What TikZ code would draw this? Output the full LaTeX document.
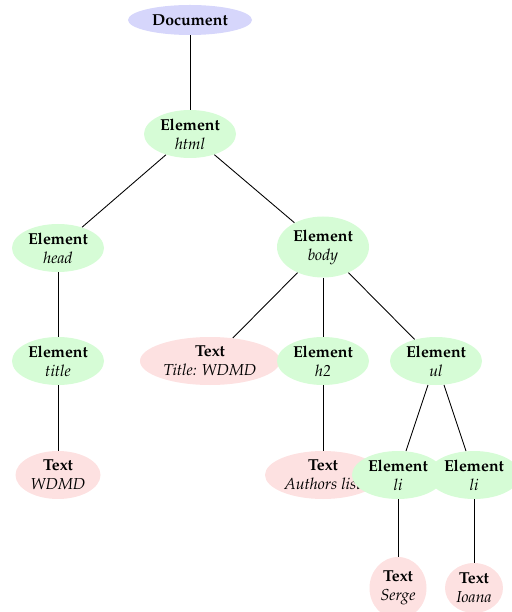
\documentclass[tikz,border=0pt]{standalone}
\usepackage[T1]{fontenc}
\usepackage{mathpazo}
\usetikzlibrary{shapes.geometric}
\definecolor{elemgreen}{HTML}{D6FCD6}
\definecolor{textpink}{HTML}{FDE1E1}
\definecolor{docblue}{HTML}{D6D6FB}
\newcommand{\pxu}{0.63pt}
\tikzset{
  base/.style={ellipse, inner sep=0pt, align=center, font=\normalsize},
  docnode/.style={base, fill=docblue, minimum width=124*\pxu, minimum height=30*\pxu},
  elemnode/.style={base, fill=elemgreen, minimum width=92*\pxu, minimum height=48*\pxu},
  textnode/.style={base, fill=textpink, minimum height=48*\pxu},
  link/.style={draw=black, line width=0.55pt}
}
\begin{document}
\begin{tikzpicture}[x=\pxu, y=-\pxu]
\useasboundingbox (0,0) rectangle (511,612);
\node[docnode] (doc) at (190,20) {\textbf{Document}};
\node[elemnode] (html) at (190,134) {\textbf{Element}\\\textit{html}};
\node[elemnode] (head) at (58,248) {\textbf{Element}\\\textit{head}};
\node[elemnode, minimum height=61*\pxu] (body) at (323,247) {\textbf{Element}\\\textit{body}};
\node[elemnode] (title) at (58,361) {\textbf{Element}\\\textit{title}};
\node[textnode, minimum width=140*\pxu] (ttext) at (210,361) {\textbf{Text}\\\textit{Title: WDMD}};
\node[elemnode] (h2) at (323,361) {\textbf{Element}\\\textit{h2}};
\node[elemnode] (ul) at (436,361) {\textbf{Element}\\\textit{ul}};
\node[textnode, minimum width=85*\pxu] (wdmd) at (58,475) {\textbf{Text}\\\textit{WDMD}};
\node[textnode, minimum width=116*\pxu] (authors) at (323,475) {\textbf{Text}\\\textit{Authors list}};
\node[elemnode] (li1) at (398,475) {\textbf{Element}\\\textit{li}};
\node[elemnode] (li2) at (474,475) {\textbf{Element}\\\textit{li}};
\node[textnode, minimum width=57*\pxu, minimum height=62*\pxu] (serge) at (398,588) {\textbf{Text}\\\textit{Serge}};
\node[textnode, minimum width=58*\pxu, minimum height=50*\pxu] (ioana) at (474,588) {\textbf{Text}\\\textit{Ioana}};
\draw[link] (doc) -- (html);
\draw[link] (html) -- (head);
\draw[link] (html) -- (body);
\draw[link] (head) -- (title);
\draw[link] (title) -- (wdmd);
\draw[link] (body) -- (ttext);
\draw[link] (body) -- (h2);
\draw[link] (body) -- (ul);
\draw[link] (h2) -- (authors);
\draw[link] (ul) -- (li1);
\draw[link] (ul) -- (li2);
\draw[link] (li1) -- (serge);
\draw[link] (li2) -- (ioana);
\end{tikzpicture}
\end{document}
